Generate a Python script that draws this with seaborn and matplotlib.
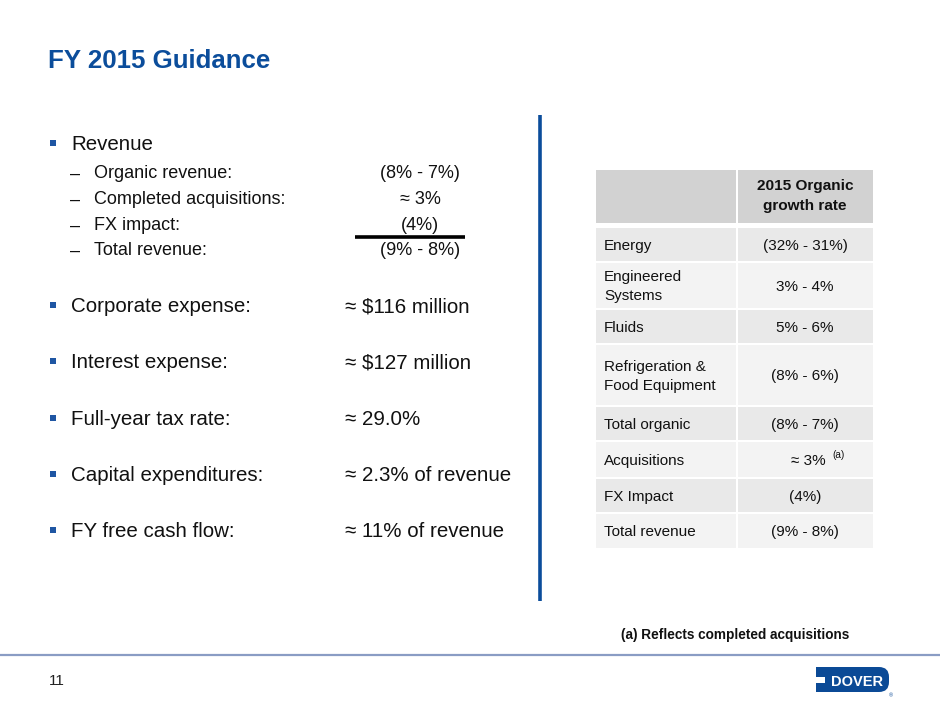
import matplotlib
matplotlib.use("Agg")
import matplotlib.pyplot as plt
from matplotlib.patches import Rectangle, FancyBboxPatch
import seaborn as sns

# ---------------- data ----------------
title = "FY 2015 Guidance"
revenue_items = ["Organic revenue:", "Completed acquisitions:", "FX impact:", "Total revenue:"]
revenue_values = ["(8% - 7%)", "≈ 3%", "(4%)", "(9% - 8%)"]
guidance_items = ["Corporate expense:", "Interest expense:", "Full-year tax rate:",
                  "Capital expenditures:", "FY free cash flow:"]
guidance_values = ["≈ $116 million", "≈ $127 million", "≈ 29.0%",
                   "≈ 2.3% of revenue", "≈ 11% of revenue"]
table_header = ["2015 Organic", "growth rate"]
table_segments = ["Energy", "Engineered\nSystems", "Fluids", "Refrigeration &\nFood Equipment",
                  "Total organic", "Acquisitions", "FX Impact", "Total revenue"]
table_rates = ["(32% - 31%)", "3% - 4%", "5% - 6%", "(8% - 6%)",
               "(8% - 7%)", "≈ 3%", "(4%)", "(9% - 8%)"]
table_notes = ["", "", "", "", "", "(a)", "", ""]
footnote = "(a) Reflects completed acquisitions"
page_number = "11"

# ---------------- style ----------------
sns.set_theme(style="white")
plt.rcParams["font.family"] = ["Liberation Sans", "DejaVu Sans"]
BLUE = "#0b4d9b"
TEXT = "#111111"

fig = plt.figure(figsize=(9.4, 7.05), dpi=100)
ax = fig.add_axes([0, 0, 1, 1])
ax.set_xlim(0, 940)
ax.set_ylim(705, 0)
ax.axis("off")


def put(x, yc, s, size, ha="left", weight="normal", color=TEXT, **kw):
    """place text so that the capital letters are centred on yc (pixels)"""
    cap = 0.716 * size * 100 / 72
    ax.text(x, yc + cap / 2, s, fontsize=size, ha=ha, va="baseline",
            fontweight=weight, color=color, **kw)


# title
put(48, 59, title, 18.6, weight="bold", color=BLUE)

# vertical separator
ax.plot([540, 540], [115, 601], color=BLUE, lw=2.6, solid_capstyle="butt")

# bottom rule
ax.plot([0, 940], [655, 655], color="#8a9cc4", lw=1.6)

# ---- left block ----
def bullet(yc):
    ax.add_patch(Rectangle((49.5, yc - 3), 6, 6, color="#1f56a3", lw=0))

main_fs = 14.8
sub_fs = 13.0
bullet(143)
put(71, 143, "Revenue", main_fs)
sub_y = [172, 198, 224, 249]
for y, item, val in zip(sub_y, revenue_items, revenue_values):
    put(70, y, "–", sub_fs)
    put(94, y, item, sub_fs)
    put(420, y, val, sub_fs, ha="center")
ax.plot([355, 465], [237, 237], color="#000000", lw=2.6, solid_capstyle="butt")

main_y = [305, 361, 418, 474, 530]
for y, item, val in zip(main_y, guidance_items, guidance_values):
    bullet(y)
    put(71, y, item, main_fs)
    put(345, y, val, main_fs)

# ---- right table ----
col_l = (596, 736)
col_r = (738, 873)
header_rows = (170, 223)
row_edges = [(228, 261), (263, 308), (310, 343), (345, 405), (407, 440),
             (442, 477), (479, 512), (514, 548)]
row_colors = ["#e9e9e9", "#f3f3f3"]
for c in (col_l, col_r):
    ax.add_patch(Rectangle((c[0], header_rows[0]), c[1] - c[0],
                           header_rows[1] - header_rows[0], color="#d2d2d2", lw=0))
put(805, 184, table_header[0], 11.1, ha="center", weight="bold")
put(805, 204, table_header[1], 11.1, ha="center", weight="bold")

tfs = 11.0
for i, ((y0, y1), seg, rate, note) in enumerate(zip(row_edges, table_segments,
                                                      table_rates, table_notes)):
    colr = row_colors[i % 2]
    for c in (col_l, col_r):
        ax.add_patch(Rectangle((c[0], y0), c[1] - c[0], y1 - y0, color=colr, lw=0))
    yc = (y0 + y1) / 2
    lines = seg.split("\n")
    if len(lines) == 1:
        put(604, yc, lines[0], tfs)
    else:
        put(604, yc - 9.5, lines[0], tfs)
        put(604, yc + 9.5, lines[1], tfs)
    if note:
        put(826, yc, rate, tfs, ha="right")
        ax.text(832, yc - 2, note, fontsize=7.2, ha="left", va="baseline", color=TEXT)
    else:
        put(805, yc, rate, tfs, ha="center")

# footnote
put(849, 634, footnote, 9.8, ha="right", weight="bold")

# page number
put(49, 680, page_number, 11, color="#222222")

# logo
ax.add_patch(Rectangle((816, 667), 62, 25, color="#0b4a96", lw=0))
ax.add_patch(FancyBboxPatch((862, 667), 27, 25,
                            boxstyle="round,pad=0,rounding_size=10",
                            color="#0b4a96", lw=0))
ax.add_patch(Rectangle((815, 677), 10, 6, color="white", lw=0))
put(857, 680.5, "DOVER", 10.5, ha="center", weight="heavy", color="white")
ax.text(891, 696, "®", fontsize=4, color="#0b4a96", ha="center", va="center")

fig.savefig("out.png", dpi=100, facecolor="white")
